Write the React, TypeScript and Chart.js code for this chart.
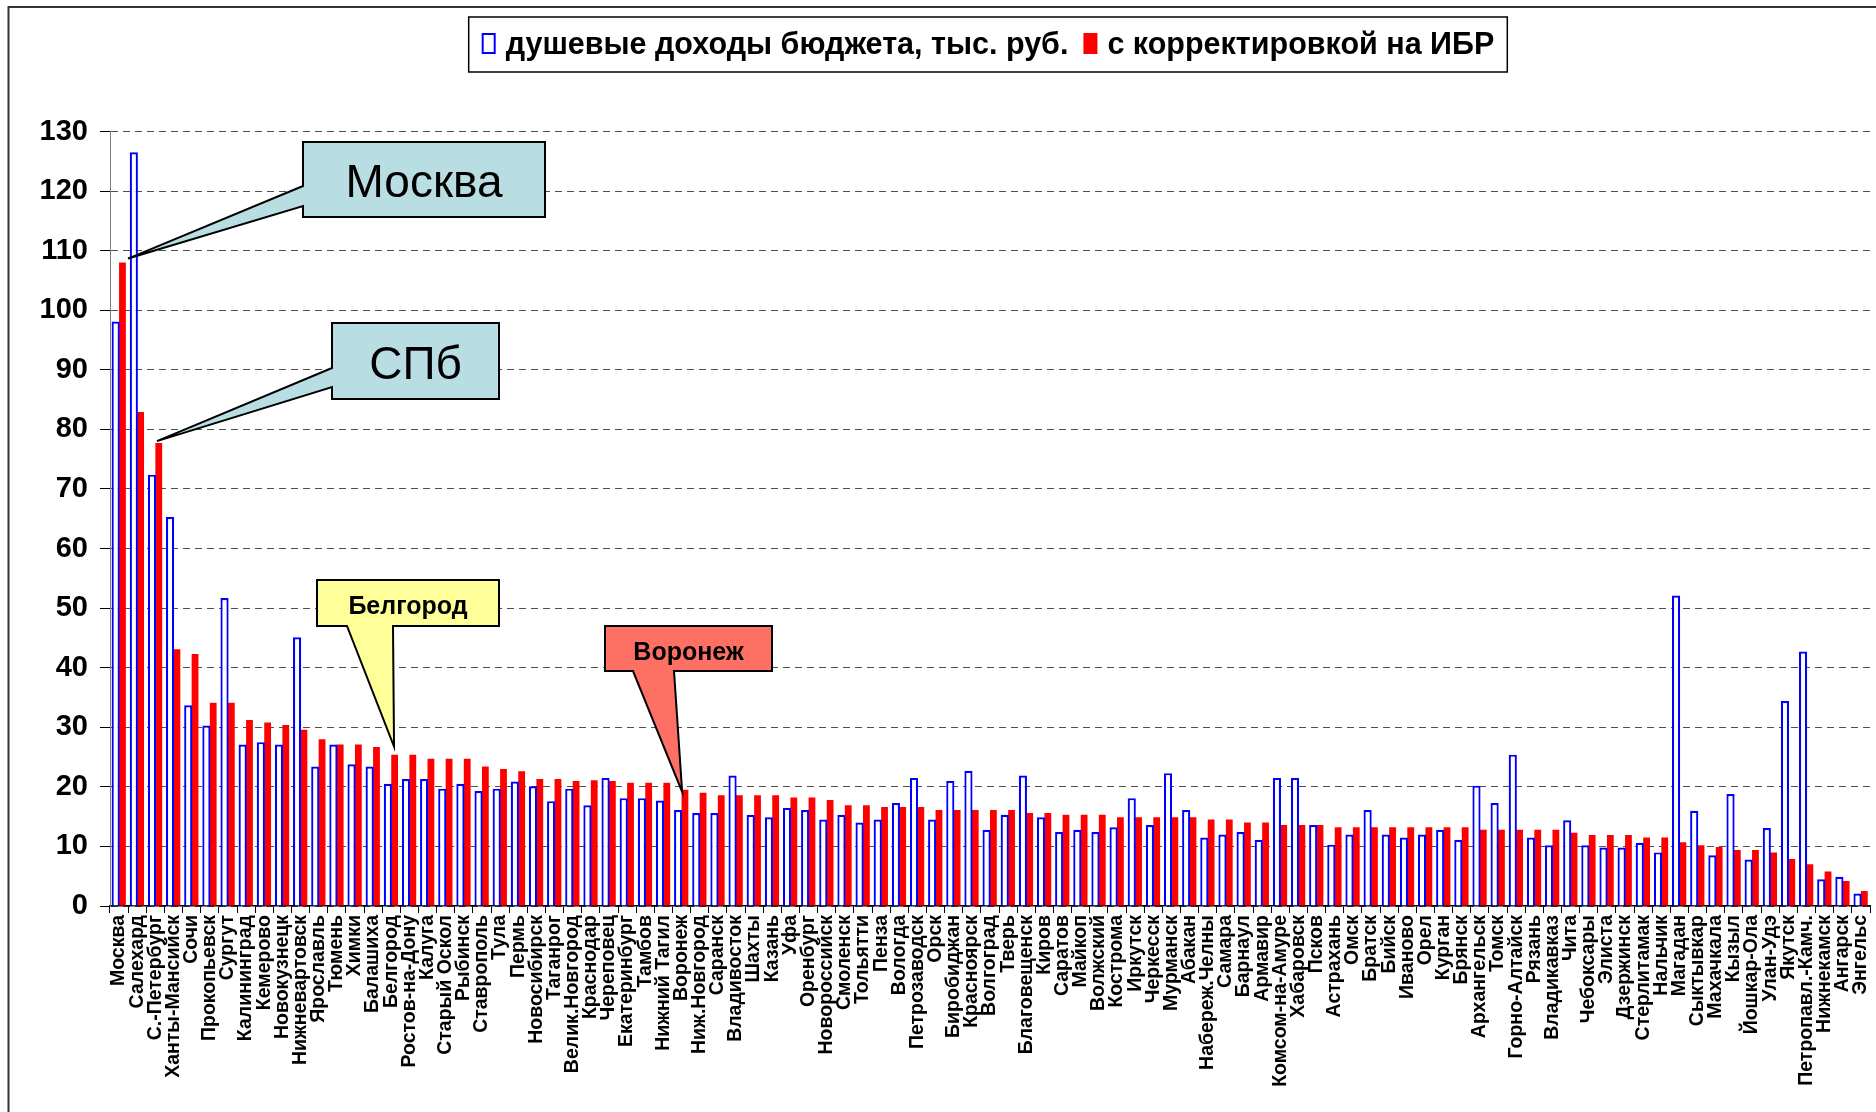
import { useEffect, useRef } from 'react';
import { Chart, registerables } from 'chart.js';

Chart.register(...registerables);

// ---------------- DATA ----------------
const cities = [
  'Москва', 'Салехард', 'С.-Петербург', 'Ханты-Мансийск', 'Сочи', 'Прокопьевск', 'Сургут',
  'Калининград', 'Кемерово', 'Новокузнецк', 'Нижневартовск', 'Ярославль', 'Тюмень', 'Химки',
  'Балашиха', 'Белгород', 'Ростов-на-Дону', 'Калуга', 'Старый Оскол', 'Рыбинск', 'Ставрополь',
  'Тула', 'Пермь', 'Новосибирск', 'Таганрог', 'Велик.Новгород', 'Краснодар', 'Череповец',
  'Екатеринбург', 'Тамбов', 'Нижний Тагил', 'Воронеж', 'Ниж.Новгород', 'Саранск', 'Владивосток',
  'Шахты', 'Казань', 'Уфа', 'Оренбург', 'Новороссийск', 'Смоленск', 'Тольятти', 'Пенза',
  'Вологда', 'Петрозаводск', 'Орск', 'Биробиджан', 'Красноярск', 'Волгоград', 'Тверь',
  'Благовещенск', 'Киров', 'Саратов', 'Майкоп', 'Волжский', 'Кострома', 'Иркутск', 'Черкесск',
  'Мурманск', 'Абакан', 'Набереж.Челны', 'Самара', 'Барнаул', 'Армавир', 'Комсом-на-Амуре',
  'Хабаровск', 'Псков', 'Астрахань', 'Омск', 'Братск', 'Бийск', 'Иваново', 'Орел', 'Курган',
  'Брянск', 'Архангельск', 'Томск', 'Горно-Алтайск', 'Рязань', 'Владикавказ', 'Чита',
  'Чебоксары', 'Элиста', 'Дзержинск', 'Стерлитамак', 'Нальчик', 'Магадан', 'Сыктывкар',
  'Махачкала', 'Кызыл', 'Йошкар-Ола', 'Улан-Удэ', 'Якутск', 'Петропавл.-Камч.', 'Нижнекамск',
  'Ангарск', 'Энгельс',
];

// душевые доходы бюджета, тыс. руб.
const incomePerCapita = [
  98.1, 126.5, 72.4, 65.3, 33.7, 30.3, 51.7, 27.1, 27.5, 27.1,
  45.1, 23.4, 27.1, 23.8, 23.4, 20.5, 21.3, 21.3, 19.7, 20.5,
  19.3, 19.7, 20.9, 20.1, 17.6, 19.7, 16.9, 21.5, 18.1, 18.1,
  17.7, 16.1, 15.6, 15.6, 21.9, 15.3, 14.9, 16.5, 16.1, 14.5,
  15.3, 14.0, 14.5, 17.3, 21.5, 14.5, 21.0, 22.7, 12.8, 15.3,
  21.9, 14.9, 12.4, 12.8, 12.4, 13.2, 18.1, 13.6, 22.3, 16.1,
  11.5, 12.0, 12.4, 11.1, 21.5, 21.5, 13.6, 10.3, 12.0, 16.1,
  12.0, 11.5, 12.0, 12.8, 11.1, 20.2, 17.3, 25.4, 11.5, 10.2,
  14.4, 10.2, 9.8, 9.8, 10.6, 9.0, 52.1, 16.0, 8.5, 18.8,
  7.8, 13.1, 34.4, 42.7, 4.5, 4.9, 2.1,
];

// с корректировкой на ИБР
const incomeAdjusted = [
  108.0, 82.9, 77.7, 43.1, 42.3, 34.1, 34.1, 31.2, 30.8, 30.4,
  29.6, 28.0, 27.1, 27.1, 26.7, 25.4, 25.4, 24.7, 24.7, 24.7,
  23.4, 23.0, 22.6, 21.3, 21.3, 21.0, 21.1, 21.0, 20.7, 20.7,
  20.7, 19.5, 19.0, 18.6, 18.6, 18.6, 18.6, 18.2, 18.2, 17.8,
  16.9, 16.9, 16.6, 16.6, 16.6, 16.1, 16.1, 16.1, 16.1, 16.1,
  15.6, 15.6, 15.3, 15.3, 15.3, 14.9, 14.9, 14.9, 14.9, 14.9,
  14.5, 14.5, 14.0, 14.0, 13.6, 13.6, 13.6, 13.2, 13.2, 13.2,
  13.2, 13.2, 13.2, 13.2, 13.2, 12.8, 12.8, 12.8, 12.8, 12.8,
  12.3, 11.9, 11.9, 11.9, 11.5, 11.5, 10.7, 10.2, 9.9, 9.4,
  9.4, 9.0, 7.9, 7.0, 5.8, 4.2, 2.5,
];

const seriesLabels = ['душевые доходы бюджета, тыс. руб.', 'с корректировкой на ИБР'];

const yMin = 0;
const yMax = 130;
const yStep = 10;

const calloutTexts = ['Москва', 'СПб', 'Белгород', 'Воронеж'];
const calloutCities = ['Москва', 'С.-Петербург', 'Белгород', 'Воронеж'];

// ---------------- STYLE / LAYOUT ----------------
const FAMILY = '"Liberation Sans", Arial, Helvetica, sans-serif';

const CALLOUT_STYLE = [
  { box: [303, 142, 545, 217], side: 'left', base: [186, 206], dx: 9, dy: -4, fill: '#B8DEE3', font: `46px ${FAMILY}`, ty: 5 },
  { box: [332, 323, 499, 399], side: 'left', base: [368, 387], dx: 1.6, dy: -2, fill: '#B8DEE3', font: `46px ${FAMILY}`, ty: 5 },
  { box: [317, 580, 499, 626], side: 'bottom', base: [347, 393], dx: 2.8, dy: -8, fill: '#FFFF99', font: `bold 25px ${FAMILY}`, ty: 4 },
  { box: [605, 626, 772, 671], side: 'bottom', base: [633, 674], dx: 0.6, dy: 2, fill: '#FF7064', font: `bold 25px ${FAMILY}`, ty: 5 },
];

const framePlugin = {
  id: 'frame',
  beforeDraw(chart: any) {
    const { ctx, width, height } = chart;
    ctx.save();
    ctx.fillStyle = '#ffffff';
    ctx.fillRect(0, 0, width, height);
    ctx.strokeStyle = '#333333';
    ctx.lineWidth = 2;
    ctx.beginPath();
    ctx.moveTo(8.5, height);
    ctx.lineTo(8.5, 7);
    ctx.lineTo(width, 7);
    ctx.stroke();
    ctx.restore();
  },
};

const calloutPlugin = {
  id: 'callouts',
  afterDatasetsDraw(chart: any) {
    const { ctx } = chart;
    const xs = chart.scales.x;
    const ys = chart.scales.y;
    ctx.save();
    calloutTexts.forEach((text, k) => {
      const st = CALLOUT_STYLE[k];
      const idx = cities.indexOf(calloutCities[k]);
      const tipX = xs.getPixelForValue(idx) + st.dx;
      const tipY = ys.getPixelForValue(incomeAdjusted[idx]) + st.dy;
      const [L, T, R, B] = st.box;
      ctx.beginPath();
      if (st.side === 'left') {
        ctx.moveTo(L, T);
        ctx.lineTo(R, T);
        ctx.lineTo(R, B);
        ctx.lineTo(L, B);
        ctx.lineTo(L, st.base[1]);
        ctx.lineTo(tipX, tipY);
        ctx.lineTo(L, st.base[0]);
      } else {
        ctx.moveTo(L, T);
        ctx.lineTo(R, T);
        ctx.lineTo(R, B);
        ctx.lineTo(st.base[1], B);
        ctx.lineTo(tipX, tipY);
        ctx.lineTo(st.base[0], B);
        ctx.lineTo(L, B);
      }
      ctx.closePath();
      ctx.fillStyle = st.fill;
      ctx.fill();
      ctx.lineWidth = 2;
      ctx.lineJoin = 'miter';
      ctx.strokeStyle = '#000000';
      ctx.stroke();
      ctx.fillStyle = '#000000';
      ctx.font = st.font;
      ctx.textAlign = 'center';
      ctx.textBaseline = 'middle';
      ctx.fillText(text, (L + R) / 2, (T + B) / 2 + st.ty);
    });
    ctx.restore();
  },
};

const legendPlugin = {
  id: 'boxLegend',
  afterDraw(chart: any) {
    const { ctx, chartArea } = chart;
    const ds = chart.data.datasets;
    ctx.save();
    ctx.font = `bold 30.5px ${FAMILY}`;
    const markerW = 14;
    const markerH = 21;
    const gapText = 10;
    const gapItem = 15;
    const padX = 13;
    const widths = ds.map((d: any) => ctx.measureText(d.label).width);
    const contentW = widths.reduce((a: number, w: number) => a + markerW + gapText + w, 0) + gapItem * (ds.length - 1);
    const boxW = contentW + padX * 2;
    const cx = (chartArea.left + chartArea.right) / 2 - 2;
    const top = 17;
    const bottom = 72;
    const left = cx - boxW / 2;
    ctx.fillStyle = '#ffffff';
    ctx.fillRect(left, top, boxW, bottom - top);
    ctx.strokeStyle = '#000000';
    ctx.lineWidth = 1.5;
    ctx.strokeRect(left, top, boxW, bottom - top);
    const cy = 43.5;
    let x = left + padX;
    ds.forEach((d: any, i: number) => {
      if (d.borderWidth > 0) {
        ctx.fillStyle = d.backgroundColor;
        ctx.fillRect(x, cy - markerH / 2, markerW, markerH);
        ctx.strokeStyle = d.borderColor;
        ctx.lineWidth = 2;
        ctx.strokeRect(x + 1, cy - markerH / 2 + 1, markerW - 2, markerH - 2);
      } else {
        ctx.fillStyle = d.backgroundColor;
        ctx.fillRect(x, cy - markerH / 2, markerW, markerH);
      }
      x += markerW + gapText;
      ctx.fillStyle = '#000000';
      ctx.textAlign = 'left';
      ctx.textBaseline = 'middle';
      ctx.fillText(d.label, x, cy + 2);
      x += widths[i] + gapItem;
    });
    ctx.restore();
  },
};

export default function App() {
  const ref = useRef<HTMLCanvasElement>(null);

  useEffect(() => {
    const canvas = ref.current;
    if (!canvas) return;
    const chart = new Chart(canvas, {
      type: 'bar',
      data: {
        labels: cities,
        datasets: [
          {
            label: seriesLabels[0],
            data: incomePerCapita,
            backgroundColor: '#ffffff',
            borderColor: '#0000ff',
            borderWidth: 2.2,
            borderSkipped: 'start',
            categoryPercentage: 0.75,
            barPercentage: 1.2,
          },
          {
            label: seriesLabels[1],
            data: incomeAdjusted,
            backgroundColor: '#ff0000',
            borderWidth: 0,
            categoryPercentage: 0.75,
            barPercentage: 1,
          },
        ],
      },
      options: {
        responsive: false,
        animation: false,
        devicePixelRatio: 1,
        layout: { padding: { left: 0, right: 6, top: 131.5, bottom: 0 } },
        plugins: {
          legend: { display: false },
          tooltip: { enabled: false },
          title: { display: false },
        },
        scales: {
          x: {
            offset: true,
            grid: {
              display: true,
              offset: true,
              drawOnChartArea: false,
              drawTicks: true,
              tickLength: 7,
              tickColor: '#000000',
              tickWidth: 1,
            },
            border: { display: true, color: '#000000', width: 1.5 },
            ticks: {
              autoSkip: false,
              minRotation: 90,
              maxRotation: 90,
              padding: 2,
              color: '#000000',
              font: { family: FAMILY, size: 19.5, weight: 'bold' },
            },
            afterFit(s: any) {
              s.height = 206;
              s.paddingLeft = 0;
              s.paddingRight = 0;
            },
          },
          y: {
            min: yMin,
            max: yMax,
            grid: {
              color: '#505050',
              lineWidth: 1,
              drawTicks: true,
              tickLength: 10,
              tickColor: '#000000',
              tickWidth: 1,
              tickBorderDash: [],
            },
            border: { display: true, color: '#808080', width: 1, dash: [7, 5] },
            ticks: {
              stepSize: yStep,
              padding: 12,
              color: '#000000',
              font: { family: FAMILY, size: 29, weight: 'bold' },
            },
            afterFit(s: any) {
              s.width = 110;
              s.paddingTop = 0;
              s.paddingBottom = 0;
            },
          },
        },
      },
      plugins: [framePlugin, calloutPlugin, legendPlugin],
    } as any);
    return () => chart.destroy();
  }, []);

  return (
    <canvas
      ref={ref}
      width={1876}
      height={1112}
      style={{ position: 'fixed', left: 0, top: 0, width: '1876px', height: '1112px', display: 'block' }}
    />
  );
}
